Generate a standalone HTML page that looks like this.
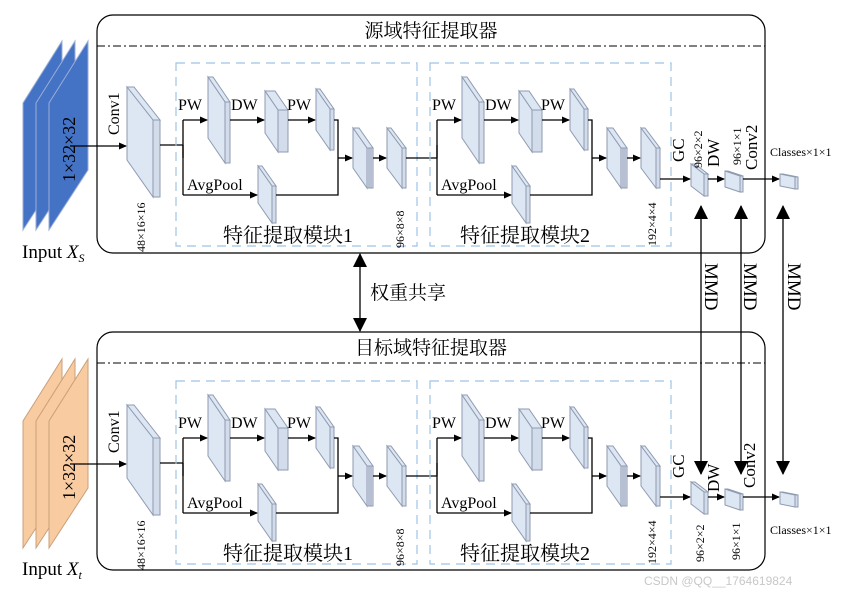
<!DOCTYPE html>
<html><head><meta charset="utf-8"><style>
body{margin:0;background:#fff;}
.b{fill:#dde6f3;stroke:#8e9bb0;stroke-width:1;}
.s{fill:#d3dcea;stroke:#8e9bb0;stroke-width:1;}
.l{stroke:#000;stroke-width:1.3;fill:none;}
</style></head><body>
<svg width="845" height="595" viewBox="0 0 845 595" xmlns="http://www.w3.org/2000/svg" font-family="'Liberation Serif','Noto Serif CJK SC',serif">
<defs>
<marker id="a" markerWidth="8" markerHeight="8" refX="7" refY="4" orient="auto" markerUnits="userSpaceOnUse"><path d="M0,0.5 L8,4 L0,7.5 z" fill="#000"/></marker>
<marker id="A" markerWidth="14" markerHeight="14" refX="13" refY="7" orient="auto" markerUnits="userSpaceOnUse"><path d="M0,0 L14,7 L0,14 z" fill="#000"/></marker>
<g id="mod" font-family="'Liberation Serif',serif">
 <rect x="176" y="63" width="241" height="183" fill="none" stroke="#9cc3e6" stroke-width="1.2" stroke-dasharray="9,6"/>
 <polygon class="b" points="208,77 213,77 230,102 225,102"/>
 <polygon class="b" points="208,77 225,102 225,163 208,138"/>
 <polygon class="s" points="225,102 230,102 230,163 225,163"/>
 <polygon class="b" points="265,91 275,91 288,110 278,110"/>
 <polygon class="b" points="265,91 278,110 278,152 265,133"/>
 <polygon class="s" points="278,110 288,110 288,152 278,152"/>
 <polygon class="b" points="316,89 320,89 334,109 330,109"/>
 <polygon class="b" points="316,89 330,109 330,150 316,130"/>
 <polygon class="s" points="330,109 334,109 334,150 330,150"/>
 <polygon class="b" points="258,166 262,166 276,186 272,186"/>
 <polygon class="b" points="258,166 272,186 272,223 258,203"/>
 <polygon class="s" points="272,186 276,186 276,223 272,223"/>
 <polygon class="b" points="353,128 359,128 373,148 367,148"/>
 <polygon class="b" points="353,128 367,148 367,188 353,168"/>
 <polygon class="b" points="367,148 373,148 373,188 367,188"/>
 <line x1="369" y1="148" x2="369" y2="188" stroke="#8e9bb0"/><line x1="371" y1="148" x2="371" y2="188" stroke="#8e9bb0"/>
 <polygon class="b" points="387,128 391,128 406,148 402,148"/>
 <polygon class="b" points="387,128 402,148 402,188 387,168"/>
 <polygon class="s" points="402,148 406,148 406,188 402,188"/>
 <polyline class="l" points="183,158 183,120"/>
 <line class="l" x1="183" y1="120" x2="207" y2="120" marker-end="url(#a)"/>
 <line class="l" x1="230" y1="120" x2="264" y2="120" marker-end="url(#a)"/>
 <line class="l" x1="288" y1="120" x2="315" y2="120" marker-end="url(#a)"/>
 <polyline class="l" points="183,145 183,195"/>
 <line class="l" x1="183" y1="195" x2="257" y2="195" marker-end="url(#a)"/>
 <polyline class="l" points="334,120 338,120 338,195 276,195"/>
 <line class="l" x1="338" y1="158" x2="352" y2="158" marker-end="url(#a)"/>
 <line class="l" x1="373" y1="158" x2="386" y2="158" marker-end="url(#a)"/>
 <text x="178" y="110" font-size="16">PW</text>
 <text x="231" y="110" font-size="16">DW</text>
 <text x="287" y="110" font-size="16">PW</text>
 <text x="187" y="190" font-size="16">AvgPool</text>
</g>
<g id="panel" font-family="'Liberation Serif','Noto Serif CJK SC',serif">
 <polygon points="23,103 62,41 62,170 23,230" fill="var(--c)" stroke="var(--e)"/>
 <polygon points="36,103 75,41 75,170 36,230" fill="var(--c)" stroke="var(--e)"/>
 <polygon points="49,103 88,41 88,170 49,230" fill="var(--c)" stroke="var(--e)"/>
 <text transform="translate(75,182) rotate(-90)" font-size="18">1×32×32</text>
 <line class="l" x1="70" y1="146" x2="126" y2="146" marker-end="url(#a)"/>
 <polygon class="b" points="127,87 134,87 160,120 153,120"/>
 <polygon class="b" points="127,87 153,120 153,197 127,160"/>
 <polygon class="s" points="153,120 160,120 160,197 153,197"/>
 <text transform="translate(119,135) rotate(-90)" font-size="16">Conv1</text>
 <text transform="translate(145,252) rotate(-90)" font-size="12">48×16×16</text>
 <line class="l" x1="160" y1="145" x2="183" y2="145"/>
 <use href="#mod"/>
 <text x="288" y="242" font-size="20" text-anchor="middle">特征提取模块1</text>
 <text transform="translate(404,248) rotate(-90)" font-size="12">96×8×8</text>
 <line class="l" x1="406" y1="158" x2="437" y2="158"/>
 <g transform="translate(254,0)"><use href="#mod"/></g>
 <text x="525" y="242" font-size="20" text-anchor="middle">特征提取模块2</text>
 <text transform="translate(656,246) rotate(-90)" font-size="12">192×4×4</text>
 <line class="l" x1="660" y1="179" x2="690" y2="179" marker-end="url(#a)"/>
 <polygon class="b" points="691,164 695,164 708,174 704,174"/>
 <polygon class="b" points="691,164 704,174 704,196 691,186"/>
 <polygon class="s" points="704,174 708,174 708,196 704,196"/>
 <line class="l" x1="708" y1="179" x2="724" y2="179" marker-end="url(#a)"/>
 <polygon class="b" points="725,171 728,171 743,176 740,176"/>
 <polygon class="b" points="725,171 740,176 740,192 725,187"/>
 <polygon class="s" points="740,176 743,176 743,192 740,192"/>
 <line class="l" x1="743" y1="179" x2="779" y2="179" marker-end="url(#a)"/>
 <polygon class="b" points="780,174 783,174 798,177 795,177"/>
 <polygon class="b" points="780,174 795,177 795,189 780,186"/>
 <polygon class="s" points="795,177 798,177 798,189 795,189"/>
</g>
</defs>

<rect x="97" y="15" width="668" height="238" rx="16" fill="none" stroke="#000" stroke-width="1.2"/>
<line x1="97" y1="46" x2="765" y2="46" stroke="#000" stroke-width="1" stroke-dasharray="8,3,2,3"/>
<text x="431" y="37" font-size="19" text-anchor="middle">源域特征提取器</text>
<g style="--c:#4472c4;--e:#9aaed6"><use href="#panel"/></g>
<text transform="translate(684,162) rotate(-90)" font-size="17">GC</text>
<text transform="translate(702,168) rotate(-90)" font-size="12">96×2×2</text>
<text transform="translate(719,167) rotate(-90)" font-size="17">DW</text>
<text transform="translate(741,165) rotate(-90)" font-size="12">96×1×1</text>
<text transform="translate(757,170) rotate(-90)" font-size="17">Conv2</text>
<text x="770" y="156" font-size="12">Classes×1×1</text>
<text x="22" y="258" font-size="19">Input <tspan font-style="italic">X</tspan><tspan font-size="12" font-style="italic" dy="4">S</tspan></text>

<line class="l" x1="360" y1="268" x2="360" y2="254" marker-end="url(#A)"/>
<line class="l" x1="360" y1="268" x2="360" y2="331" marker-end="url(#A)"/>
<text x="370" y="299" font-size="19">权重共享</text>

<rect x="97" y="332" width="668" height="238" rx="16" fill="none" stroke="#000" stroke-width="1.2"/>
<line x1="97" y1="363" x2="765" y2="363" stroke="#000" stroke-width="1" stroke-dasharray="8,3,2,3"/>
<text x="431" y="354" font-size="19" text-anchor="middle">目标域特征提取器</text>
<g transform="translate(0,318)" style="--c:#f8cba0;--e:#c9a07a"><use href="#panel"/></g>
<text transform="translate(684,478) rotate(-90)" font-size="17">GC</text>
<text transform="translate(704,562) rotate(-90)" font-size="12">96×2×2</text>
<text transform="translate(719,492) rotate(-90)" font-size="17">DW</text>
<text transform="translate(740,560) rotate(-90)" font-size="12">96×1×1</text>
<text transform="translate(755,488) rotate(-90)" font-size="17">Conv2</text>
<text x="770" y="534" font-size="12">Classes×1×1</text>
<text x="22" y="575" font-size="19">Input <tspan font-style="italic">X</tspan><tspan font-size="12" font-style="italic" dy="4">t</tspan></text>

<line class="l" x1="701" y1="300" x2="701" y2="206" marker-end="url(#A)"/>
<line class="l" x1="701" y1="300" x2="701" y2="474" marker-end="url(#A)"/>
<line class="l" x1="741" y1="300" x2="741" y2="206" marker-end="url(#A)"/>
<line class="l" x1="741" y1="300" x2="741" y2="474" marker-end="url(#A)"/>
<line class="l" x1="783" y1="300" x2="783" y2="206" marker-end="url(#A)"/>
<line class="l" x1="783" y1="300" x2="783" y2="474" marker-end="url(#A)"/>
<text transform="translate(705,263) rotate(90)" font-size="19">MMD</text>
<text transform="translate(744,263) rotate(90)" font-size="19">MMD</text>
<text transform="translate(788,263) rotate(90)" font-size="19">MMD</text>
<text x="644" y="585" font-size="12" font-family="'Liberation Sans',sans-serif" fill="#c8c8c8">CSDN @QQ__1764619824</text>
</svg>
</body></html>
